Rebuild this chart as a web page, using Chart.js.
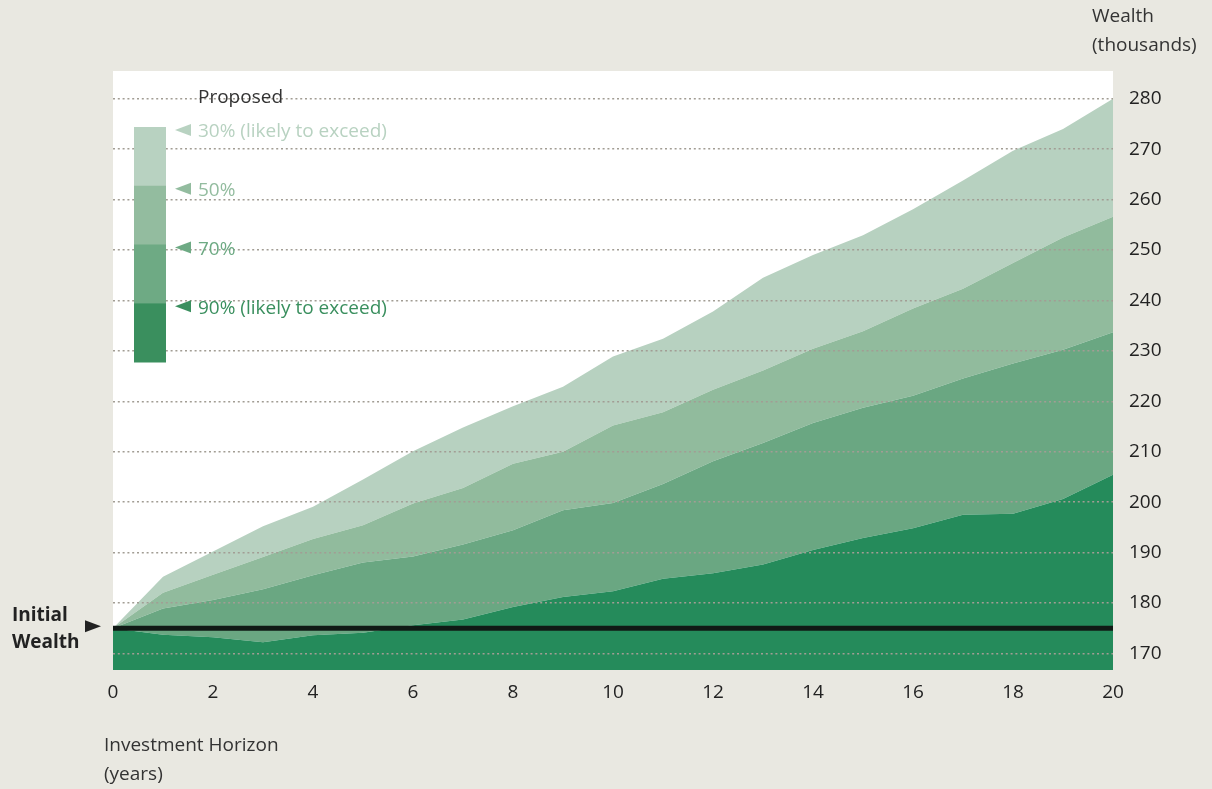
<!DOCTYPE html>
<html>
<head>
<meta charset="utf-8">
<script src="https://cdn.jsdelivr.net/npm/chart.js@4/dist/chart.umd.min.js"></script>
<style>
  html, body { margin: 0; padding: 0; background: #e9e8e1; }
  #wrap { position: relative; width: 1212px; height: 789px; }
</style>
</head>
<body>
<div id="wrap"><canvas id="wealth-chart"></canvas></div>
<script>
// Projected wealth bands — proposed portfolio, 20-year horizon
const years = [0, 1, 2, 3, 4, 5, 6, 7, 8, 9, 10, 11, 12, 13, 14, 15, 16, 17, 18, 19, 20]
const initialWealth = 175
const p30 = [175, 185.2, 190.2, 195.2, 199.1, 204.5, 210.1, 214.8, 219.0, 222.9, 228.9, 232.4, 237.8, 244.5, 249.0, 252.9, 258.1, 263.8, 269.7, 274.0, 280.0]
const p50 = [175, 182.0, 185.6, 189.1, 192.7, 195.4, 199.7, 202.8, 207.6, 210.0, 215.2, 217.8, 222.3, 226.1, 230.4, 233.9, 238.4, 242.3, 247.4, 252.5, 256.6]
const p70 = [175, 178.9, 180.6, 182.7, 185.5, 188.0, 189.2, 191.6, 194.4, 198.4, 199.8, 203.6, 208.1, 211.7, 215.7, 218.7, 221.1, 224.5, 227.5, 230.2, 233.7]
const p90 = [175, 173.7, 173.2, 172.2, 173.6, 174.1, 175.6, 176.7, 179.2, 181.2, 182.3, 184.8, 185.9, 187.6, 190.5, 192.9, 194.8, 197.5, 197.7, 200.6, 205.4]

const legendLabels = ['30% (likely to exceed)', '50%', '70%', '90% (likely to exceed)']
const legendColors = ['#b8d2c1', '#93bc9f', '#6eaa84', '#3a8f5e']
const areaColors = ['#b7d1c0', '#91bb9d', '#6aa782', '#258b5b']

const FONT = '"Open Sans", "Noto Sans", sans-serif'
const pts = arr => years.map((x, i) => ({ x, y: arr[i] }))

const plotBg = {
  id: 'plotBg',
  beforeDraw (chart) {
    const { ctx, chartArea: a } = chart
    ctx.save()
    ctx.fillStyle = '#ffffff'
    ctx.fillRect(a.left, a.top, a.right - a.left, a.bottom - a.top)
    ctx.restore()
  }
}

function tri (ctx, tipX, baseX, cy, h, color) {
  ctx.fillStyle = color
  ctx.beginPath()
  ctx.moveTo(tipX, cy)
  ctx.lineTo(baseX, cy - h)
  ctx.lineTo(baseX, cy + h)
  ctx.closePath()
  ctx.fill()
}

const annotations = {
  id: 'annotations',
  afterDraw (chart) {
    const { ctx, chartArea: a } = chart
    const yScale = chart.scales.y
    ctx.save()
    ctx.textBaseline = 'middle'
    ctx.textAlign = 'left'

    // axis titles
    ctx.fillStyle = '#333333'
    ctx.font = `19px ${FONT}`
    ctx.fillText('Wealth', 1092, 17)
    ctx.fillText('(thousands)', 1092, 46)
    ctx.fillText('Investment Horizon', 104, 746)
    ctx.fillText('(years)', 104, 775)

    // initial wealth marker
    const yw = yScale.getPixelForValue(initialWealth)
    ctx.fillStyle = '#222222'
    ctx.font = `bold 19px ${FONT}`
    ctx.fillText('Initial', 12, yw - 13)
    ctx.fillText('Wealth', 12, yw + 14)
    tri(ctx, a.left - 12, a.left - 28, yw - 2, 6, '#222222')

    // legend
    const boxX = a.left + 21, boxW = 32, boxTop = 127, segH = 58.75
    ctx.fillStyle = '#333333'
    ctx.font = `19px ${FONT}`
    ctx.fillText('Proposed', 198, 98)
    legendLabels.forEach((lab, i) => {
      const top = boxTop + i * segH
      ctx.fillStyle = legendColors[i]
      ctx.fillRect(boxX, top, boxW, segH + 0.5)
      tri(ctx, 175, 191, top + 3, 6, legendColors[i])
      ctx.fillStyle = legendColors[i]
      ctx.fillText(lab, 198, top + 5)
    })
    ctx.restore()
  }
}

const areaDs = (label, data, color, fill) => ({
  label, data: pts(data), fill, backgroundColor: color,
  borderWidth: 0, pointRadius: 0, tension: 0
})

new Chart(document.getElementById('wealth-chart'), {
  type: 'line',
  data: {
    datasets: [
      areaDs('90%', p90, areaColors[3], 'start'),
      areaDs('70%', p70, areaColors[2], '-1'),
      areaDs('50%', p50, areaColors[1], '-1'),
      areaDs('30%', p30, areaColors[0], '-1'),
      {
        label: 'Initial wealth',
        data: years.map(x => ({ x, y: initialWealth })),
        borderColor: '#101a15',
        borderWidth: 5,
        borderCapStyle: 'butt',
        pointRadius: 0,
        fill: false,
        order: -1
      }
    ]
  },
  options: {
    responsive: true,
    maintainAspectRatio: false,
    animation: false,
    layout: { padding: { left: 113, top: 71, right: 0, bottom: 0 } },
    plugins: { legend: { display: false }, tooltip: { enabled: false } },
    scales: {
      x: {
        type: 'linear',
        min: 0,
        max: 20,
        afterFit: s => { s.height = 119 },
        border: { display: false },
        grid: { display: false, drawTicks: false },
        ticks: { stepSize: 2, padding: 11, color: '#222222', font: { family: FONT, size: 19 } }
      },
      y: {
        position: 'right',
        min: 166.7,
        max: 285.5,
        afterFit: s => { s.width = 99 },
        border: { display: false, dash: [2, 2.8] },
        grid: {
          z: 1,
          drawTicks: false,
          color: '#a29d94',
          lineWidth: 1.4
        },
        ticks: {
          stepSize: 10,
          includeBounds: false,
          padding: 16,
          color: '#222222',
          font: { family: FONT, size: 19 }
        }
      }
    }
  },
  plugins: [plotBg, annotations]
})
</script>
</body>
</html>
